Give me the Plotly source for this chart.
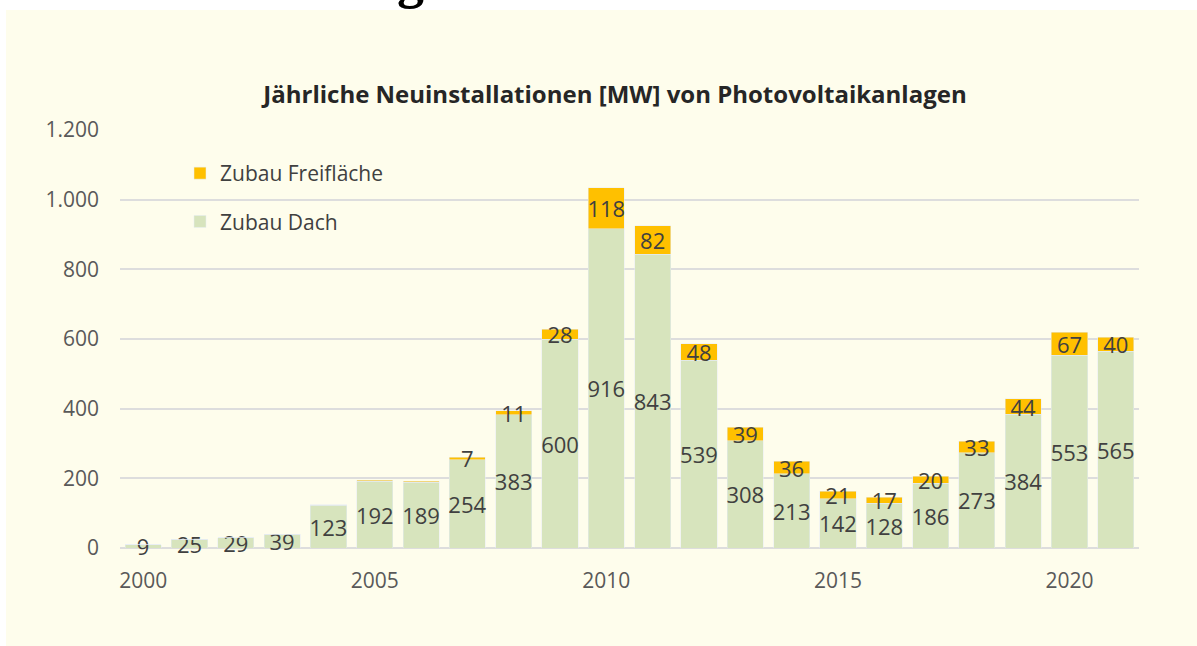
import plotly.graph_objects as go

years = list(range(2000, 2022))
dach = [9, 25, 29, 39, 123, 192, 189, 254, 383, 600, 916, 843, 539, 308, 213, 142, 128, 186, 273, 384, 553, 565]
frei = [0, 0, 0, 0, 1, 3, 3, 7, 11, 28, 118, 82, 48, 39, 36, 21, 17, 20, 33, 44, 67, 40]
frei_labels = ["" if v < 5 else str(v) for v in frei]
dach_labels = [str(v) for v in dach]

title_text = "Jährliche Neuinstallationen [MW] von Photovoltaikanlagen"
x_ticks = [2000, 2005, 2010, 2015, 2020]
y_ticks = [0, 200, 400, 600, 800, 1000, 1200]

FONT = "Open Sans"
CREAM = "#FEFDEC"
GREEN = "#D7E4BD"
GOLD = "#FFC000"
TXT = "#404040"

W, H = 1197, 646
ML, MR, MT, MB = 120, 58, 130, 98
PW, PH = W - ML - MR, H - MT - MB


def px_x(px):
    return (px - ML) / PW


def px_y(py):
    return (H - MB - py) / PH


fig = go.Figure()
fig.add_trace(go.Bar(
    x=years, y=dach, name="Zubau Dach", marker_color=GREEN,
    text=dach_labels, textposition="inside", insidetextanchor="middle",
    textangle=0, constraintext="none", cliponaxis=False,
    textfont=dict(family=FONT, size=22, color=TXT),
    legendgroup="d", legendrank=2,
))
fig.add_trace(go.Bar(
    x=years, y=frei, name="Zubau Freifläche", marker_color=GOLD,
    text=frei_labels, textposition="inside", insidetextanchor="middle",
    textangle=0, constraintext="none", cliponaxis=False,
    textfont=dict(family=FONT, size=22, color=TXT),
    legendgroup="f", legendrank=1,
))

fig.update_layout(
    width=W, height=H,
    margin=dict(l=ML, r=MR, t=MT, b=MB, pad=0),
    paper_bgcolor="white",
    plot_bgcolor="rgba(0,0,0,0)",
    barmode="stack",
    bargap=0.22,
    separators=",.",
    font=dict(family=FONT, color="#595959"),
    title=dict(text="<b>" + title_text + "</b>", x=615 / W, xanchor="center",
               y=1 - 95 / H, yanchor="middle",
               font=dict(family=FONT, size=24, color="#262626")),
    legend=dict(x=px_x(180), y=px_y(153), xanchor="left", yanchor="top",
                traceorder="grouped", tracegroupgap=18,
                bgcolor="rgba(0,0,0,0)",
                font=dict(family=FONT, size=21, color="#404040")),
    shapes=[dict(type="rect", xref="paper", yref="paper", layer="below",
                 x0=px_x(6), x1=px_x(1200), y0=px_y(650), y1=px_y(10),
                 fillcolor=CREAM, line=dict(width=0))],
    annotations=[dict(text="<b>g</b>", xref="paper", yref="paper",
                      x=px_x(410), y=px_y(-21), xanchor="center", yanchor="middle",
                      showarrow=False,
                      font=dict(family="Liberation Serif", size=54, color="black"))],
)

fig.update_xaxes(range=[1999.5, 2021.5], tickvals=x_ticks, ticks="",
                 showgrid=False, zeroline=False, showline=False,
                 ticklabelstandoff=18,
                 tickfont=dict(family=FONT, size=21, color="#595959"))
fig.update_yaxes(range=[0, 1200], tickvals=y_ticks, tickformat=",d",
                 showgrid=True, gridcolor="#DDDDDD", gridwidth=1.5,
                 zeroline=True, zerolinecolor="#DDDDDD", zerolinewidth=1.5,
                 ticks="", ticklabelstandoff=20,
                 tickfont=dict(family=FONT, size=21, color="#595959"))

fig.write_html("out.html", config={"displayModeBar": False},
               post_script="document.body.style.margin='0px';document.body.style.overflow='hidden';")
